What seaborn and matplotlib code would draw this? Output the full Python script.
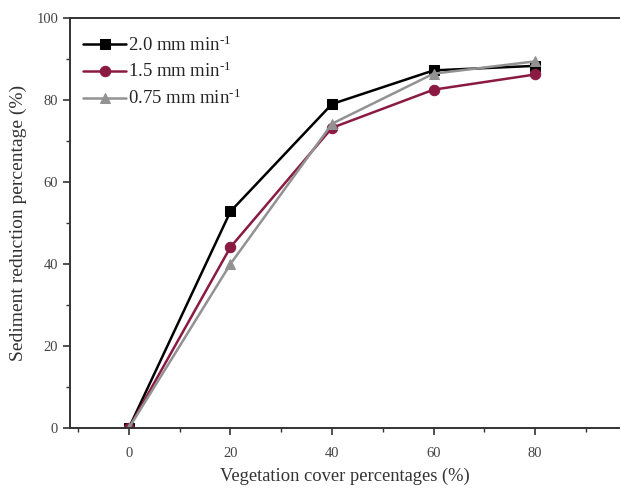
import matplotlib
matplotlib.use("Agg")
import matplotlib.pyplot as plt
from matplotlib.ticker import MultipleLocator
import seaborn as sns
import pandas as pd

cover = [0, 20, 40, 60, 80]
rate_labels = ["2.0 mm min$^{\\text{-}1}$", "1.5 mm min$^{\\text{-}1}$", "0.75 mm min$^{\\text{-}1}$"]
reduction_20 = [0, 52.8, 79.0, 87.2, 88.3]
reduction_15 = [0, 44.1, 73.2, 82.5, 86.2]
reduction_075 = [0, 40.0, 74.2, 86.4, 89.4]

rows = []
for label, vals in zip(rate_labels, [reduction_20, reduction_15, reduction_075]):
    for x, y in zip(cover, vals):
        rows.append({"cover": x, "reduction": y, "rate": label})
df = pd.DataFrame(rows)

sns.set_theme(style="ticks")
plt.rcParams["font.family"] = ["Liberation Serif", "DejaVu Serif"]
plt.rcParams["mathtext.fontset"] = "custom"
plt.rcParams["mathtext.rm"] = "Liberation Serif"
plt.rcParams["mathtext.it"] = "Liberation Serif:italic"

fig = plt.figure(figsize=(6.21, 4.90), dpi=100)
ax = fig.add_axes([0.1127, 0.1265, 0.884, 0.837])

palette = ["#000000", "#8b1a42", "#929292"]
sns.lineplot(data=df, x="cover", y="reduction", hue="rate", style="rate",
             hue_order=rate_labels, style_order=rate_labels,
             palette=palette, markers=["s", "o", "^"], dashes=False,
             markersize=7.5, linewidth=1.8, ax=ax)

# markers outlined in their own line colour
for line in ax.lines:
    line.set_markeredgecolor(line.get_color())

ax.set_xlim(-11.6, 96.5)
ax.set_ylim(0, 100)
ax.xaxis.set_major_locator(MultipleLocator(20))
ax.xaxis.set_minor_locator(MultipleLocator(10))
ax.yaxis.set_major_locator(MultipleLocator(20))
ax.yaxis.set_minor_locator(MultipleLocator(10))
ax.tick_params(which="major", length=5, width=1.2, labelsize=10.5, colors="#333333")
ax.tick_params(which="minor", length=3, width=1.0, colors="#333333")
ax.tick_params(axis="both", labelcolor="#444444")
ax.tick_params(axis="x", pad=9)

for side in ["left", "bottom", "top"]:
    ax.spines[side].set_linewidth(1.4)
    ax.spines[side].set_color("#333333")
ax.spines["right"].set_visible(False)

ax.set_xlabel("Vegetation cover percentages (%)", fontsize=13.3, color="#333333", labelpad=5)
ax.set_ylabel("Sediment reduction percentage (%)", fontsize=14, color="#333333", labelpad=7)

leg = ax.legend(loc="upper left", frameon=False, fontsize=13.5, handlelength=2.3,
                handletextpad=0.1, labelspacing=0.4, borderaxespad=0.3,
                bbox_to_anchor=(0.0, 0.99))
for h in leg.legend_handles:
    h.set_markeredgecolor(h.get_color())

fig.savefig("out.png", dpi=100)
